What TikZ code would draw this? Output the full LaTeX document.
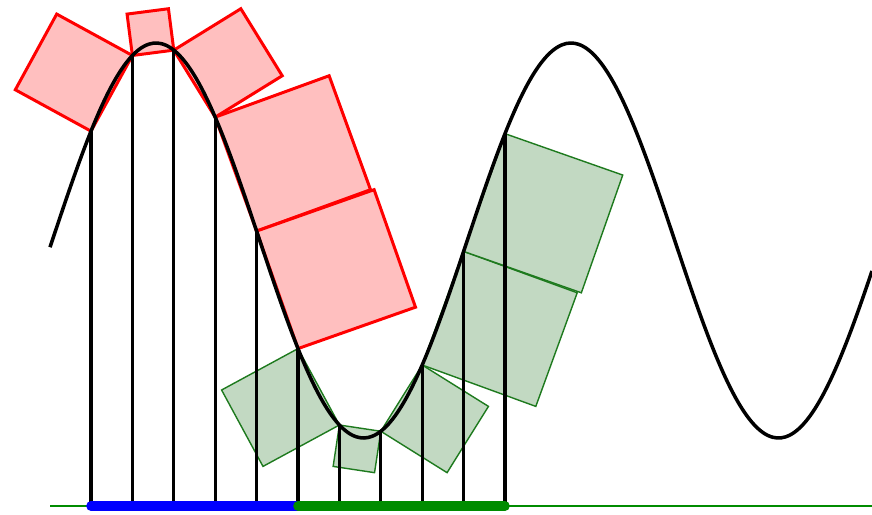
\documentclass[tikz,border=0pt]{standalone}
\usepackage{tikz}
\usetikzlibrary{calc}
\definecolor{myred}{HTML}{FF0000}
\definecolor{myredfill}{HTML}{FFBFBF}
\definecolor{mygreen}{HTML}{1E7A1E}
\definecolor{mygreenfill}{HTML}{C2D9C2}
\definecolor{mybase}{HTML}{008C00}
\definecolor{myblue}{HTML}{0000FF}
\tikzset{
  curve/.style={line width=2pt, black},
  riser/.style={line width=1.9pt, black},
  redsq/.style={draw=myred, fill=myredfill, line width=1.7pt, line join=miter},
  greensq/.style={draw=mygreen, fill=mygreenfill, line width=0.8pt},
  baseline/.style={line width=1.6pt, mybase},
  thickseg/.style={line width=5.5pt, line cap=round},
  declare function={f(\x)=240.5-197.5*cos(0.86747*(\x-156));},
}
\begin{document}
\begin{tikzpicture}[x=0.02cm, y=-0.02cm]
  \useasboundingbox (0,0) rectangle (872,514);
  % sample points on the curve and their feet
  \foreach \i in {0,...,10} {
    \pgfmathsetmacro\xx{91+41.4*\i}
    \coordinate (p\i) at (\xx,{f(\xx)});
    \coordinate (b\i) at (\xx,506);
  }
  % squares on the chords
  \foreach \i/\j in {5/6,6/7,7/8,8/9,9/10}
    \filldraw[greensq] (p\i) -- ($(p\i)!1!-90:(p\j)$) -- ($(p\j)!1!90:(p\i)$) -- (p\j) -- cycle;
  \foreach \i/\j in {0/1,1/2,2/3,3/4,4/5}
    \filldraw[redsq] (p\i) -- ($(p\i)!1!90:(p\j)$) -- ($(p\j)!1!-90:(p\i)$) -- (p\j) -- cycle;
  % verticals
  \foreach \i in {0,...,10} \draw[riser] (b\i) -- (p\i);
  \draw[curve] plot[domain=50:872, samples=200, smooth] (\x,{f(\x)});
  % axis
  \coordinate (s) at (50,506);
  \coordinate (e) at (872,506);
  \draw[baseline] (s) -- (e);
  \draw[thickseg, myblue] (b0) -- (b5);
  \draw[thickseg, mybase] (b5) -- (b10);
\end{tikzpicture}
\end{document}
